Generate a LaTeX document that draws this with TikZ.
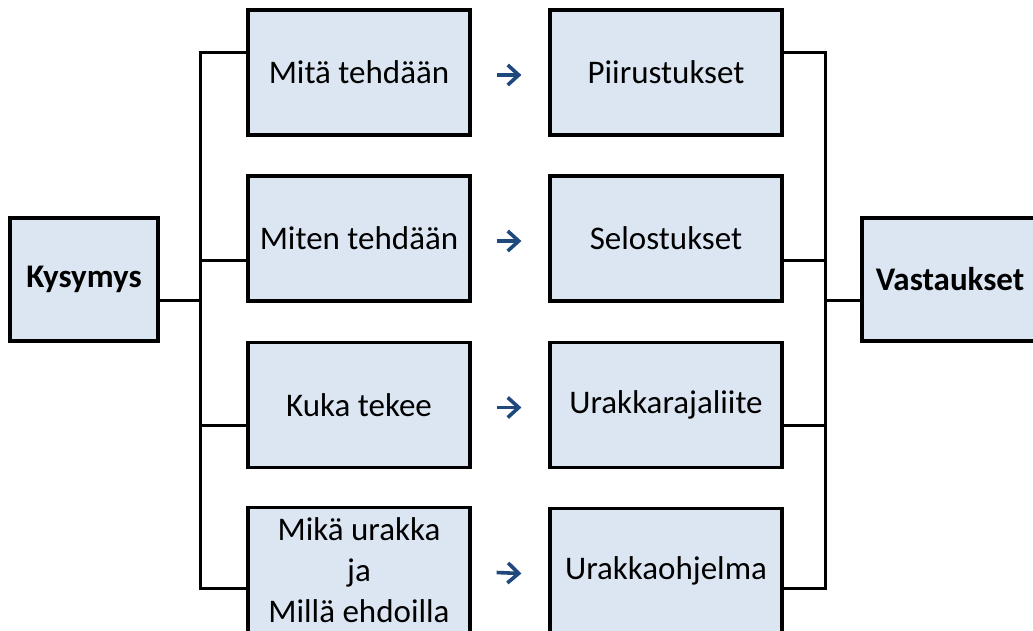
\documentclass[tikz,border=0pt]{standalone}
\usepackage{fontspec}
\setmainfont{Carlito}
\usetikzlibrary{arrows.meta}
\definecolor{boxfill}{HTML}{DCE6F2}
\definecolor{arrblue}{HTML}{1F497D}
\begin{document}
\begin{tikzpicture}[x=1pt,y=-1pt,
  box/.style={draw=black,line width=3.2pt,fill=boxfill,inner sep=0pt,align=center,font=\fontsize{33}{43}\selectfont},
  lbox/.style={box,minimum width=222pt,minimum height=125pt},
  rbox/.style={box,minimum width=232pt,minimum height=125pt},
  endbox/.style={box,minimum height=123pt,font=\fontsize{33}{40}\selectfont\bfseries},
  conn/.style={line width=3pt,line cap=rect},
  arr/.style={draw=arrblue,line width=3.6pt,-{Straight Barb[length=11pt,width=20pt,line width=3.6pt]}}]
\useasboundingbox (0,0) rectangle (1033,630);
\clip (0,0) rectangle (1033,630);
\node[lbox] (L1) at (359,72.5) {Mitä tehdään};
\node[lbox] (L2) at (359,238.5) {Miten tehdään};
\node[lbox] (L3) at (359,405) {Kuka tekee};
\node[lbox,font=\fontsize{33}{41}\selectfont] (L4) at (359,570) {\raisebox{0pt}{}Mikä urakka\\ja\\Millä ehdoilla};
\node[rbox] (R1) at (666,72.5) {Piirustukset};
\node[rbox] (R2) at (666,238.5) {Selostukset};
\node[rbox] (R3) at (666,405) {Urakkarajaliite};
\node[rbox] (R4) at (666,571) {Urakkaohjelma};
\node[endbox,minimum width=148pt] (K) at (84,279.5) {\raisebox{-3pt}{Kysymys}};
\node[endbox,minimum width=176pt] (V) at (950,279.5) {\raisebox{-3pt}{Vastaukset}};
\coordinate (sl) at (200,300);
\coordinate (sr) at (825,300);
% left spine
\draw[conn] ([yshift=20.5pt]L1.west) -| ([yshift=-18pt]L4.west -| sl) -- ([yshift=-18pt]L4.west);
\draw[conn] ([yshift=-21.5pt]L2.west) -- ([yshift=-21.5pt]L2.west -| sl);
\draw[conn] ([yshift=-20pt]L3.west) -- ([yshift=-20pt]L3.west -| sl);
\draw[conn] (K.east |- sl) -- (sl);
% right spine
\draw[conn] ([yshift=20.5pt]R1.east) -| ([yshift=-17pt]R4.east -| sr) -- ([yshift=-17pt]R4.east);
\draw[conn] ([yshift=-21.5pt]R2.east) -- ([yshift=-21.5pt]R2.east -| sr);
\draw[conn] ([yshift=-20pt]R3.east) -- ([yshift=-20pt]R3.east -| sr);
\draw[conn] (V.west |- sr) -- (sr);
% arrows
\foreach \i in {1,2,3,4}{
  \draw[arr] ([xshift=25pt,yshift=-2.5pt]L\i.east) -- ([xshift=-27pt,yshift=-2.5pt]R\i.west);
}
\end{tikzpicture}
\end{document}
